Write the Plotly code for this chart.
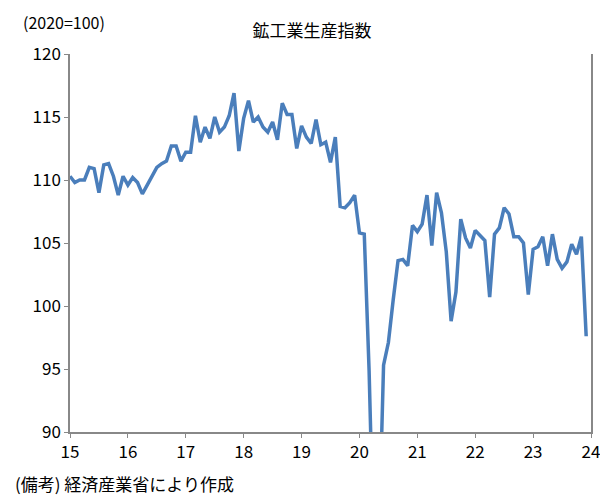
import plotly.graph_objects as go

# monthly index, 2015-01 .. 2023-12 (2020=100)
values = [
    110.3, 109.8, 110.0, 110.0, 111.0, 110.9, 109.0, 111.2, 111.3, 110.3, 108.8, 110.3,
    109.6, 110.2, 109.8, 108.9, 109.6, 110.3, 111.0, 111.3, 111.5, 112.7, 112.7, 111.5,
    112.2, 112.2, 115.1, 113.0, 114.2, 113.3, 115.0, 113.8, 114.2, 115.1, 116.9, 112.3,
    114.9, 116.3, 114.6, 115.0, 114.2, 113.8, 114.6, 113.2, 116.1, 115.2, 115.2, 112.5,
    114.3, 113.4, 112.9, 114.8, 112.8, 113.0, 111.4, 113.4, 107.9, 107.8, 108.2, 108.8,
    105.8, 105.7, 94.9, 80.0, 81.0, 95.3, 97.1, 100.5, 103.6, 103.7, 103.2, 106.4,
    105.9, 106.5, 108.8, 104.8, 109.0, 107.4, 104.3, 98.8, 101.1, 106.9, 105.4, 104.6,
    106.0, 105.6, 105.2, 100.7, 105.7, 106.2, 107.8, 107.3, 105.5, 105.5, 105.0, 100.9,
    104.5, 104.7, 105.5, 103.2, 105.7, 103.7, 103.0, 103.5, 104.9, 104.1, 105.5, 97.6,
]
year_ticks = [15, 16, 17, 18, 19, 20, 21, 22, 23, 24]
x = [15 + i / 12 for i in range(len(values))]

font = "Noto Sans CJK JP"

fig = go.Figure()
fig.add_trace(go.Scatter(x=x, y=values, mode='lines',
                         line=dict(color='#4a7ebb', width=3.5)))

fig.update_layout(
    width=608, height=504,
    margin=dict(l=62, r=25, t=46, b=80),
    plot_bgcolor='white', paper_bgcolor='white',
    showlegend=False,
    font=dict(family=font, size=17, color='black'),
    title=dict(text='鉱工業生産指数', x=0.5, xanchor='center', y=0.955, yanchor='middle',
               font=dict(size=17)),
)
fig.update_xaxes(range=[15, 24], tickvals=year_ticks, ticktext=[str(t) for t in year_ticks],
                 showline=True, linecolor='#888', linewidth=1.5, showgrid=False,
                 ticks='outside', ticklen=4, tickcolor='#888', zeroline=False)
fig.update_yaxes(range=[90, 120], dtick=5, showline=True, mirror=True, linecolor='#888',
                 linewidth=1.5, showgrid=False, ticks='outside', ticklen=4,
                 tickcolor='#888', zeroline=False)

fig.add_annotation(text='(2020=100)', xref='paper', yref='paper', x=-0.095, y=1.085,
                   xanchor='left', yanchor='middle', showarrow=False, font=dict(size=16))
fig.add_annotation(text='(備考) 経済産業省により作成', xref='paper', yref='paper', x=-0.11,
                   y=-0.135, xanchor='left', yanchor='middle', showarrow=False,
                   font=dict(size=17))

fig.write_html("out.html")
